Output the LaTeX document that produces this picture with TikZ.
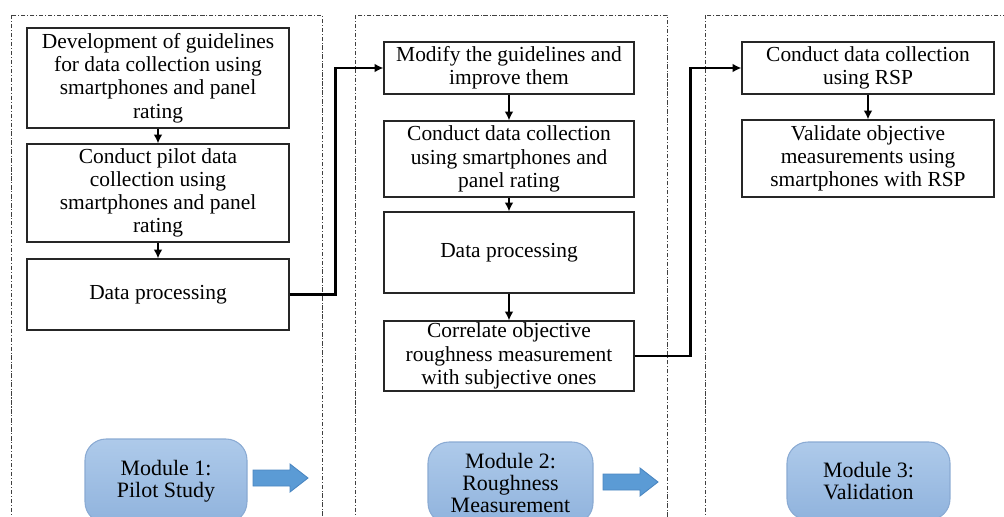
\documentclass[tikz,border=0pt]{standalone}
\usepackage{fontspec}
\setmainfont{Liberation Serif}
\usetikzlibrary{arrows.meta}
\tikzset{>={Latex[width=5pt,length=5pt]}}
\definecolor{modtop}{HTML}{AECAEA}
\definecolor{modbottom}{HTML}{90B3DD}
\definecolor{modline}{HTML}{8AAAD3}
\definecolor{arrowblue}{HTML}{5B9BD5}
\definecolor{arrowline}{HTML}{4A86C1}
\newcommand{\unitpx}{0.02cm}

\begin{document}
\begin{tikzpicture}[x=0.02cm,y=-0.02cm,
  stepbox/.style={draw=black!85, line width=0.7pt, fill=white, align=center,
    inner sep=1pt, font=\fontsize{12.2}{13.2}\selectfont},
  boxsize/.style 2 args={minimum width=#1*\unitpx, minimum height=#2*\unitpx},
  panel/.style={draw=black!75, line width=0.5pt,
    dash pattern=on 2.5pt off 1pt on 0.6pt off 1pt},
  flow/.style={->, line width=1.2pt},
  link/.style={->, line width=1.6pt},
  module/.style={draw=modline, line width=0.6pt, rounded corners=12pt,
    top color=modtop, bottom color=modbottom, align=center,
    font=\fontsize{12.5}{12.6}\selectfont},
  nextmod/.style={draw=arrowline, line width=0.5pt, fill=arrowblue}]

  \useasboundingbox (0,0) rectangle (1004,517);
  \clip (0,0) rectangle (1004,517);

  % module panels
  \draw[panel] (11,15) rectangle (322,540);
  \draw[panel] (355,15) rectangle (667,540);
  \draw[panel] (705,15) rectangle (1030,540);

  % module 1
  \node[stepbox, boxsize={262}{100}] (guide) at (158,78)
    {Development of guidelines\\for data collection using\\smartphones and panel\\rating};
  \node[stepbox, boxsize={262}{98}] (pilot) at (158,193)
    {Conduct pilot data\\collection using\\smartphones and panel\\rating};
  \node[stepbox, boxsize={262}{71}] (proc1) at (158,294.5) {Data processing};

  % module 2
  \node[stepbox, boxsize={250}{52}] (modify) at (509,68)
    {Modify the guidelines and\\improve them};
  \node[stepbox, boxsize={250}{76}] (collect) at (509,159)
    {Conduct data collection\\using smartphones and\\panel rating};
  \node[stepbox, boxsize={250}{81}] (proc2) at (509,252.5) {Data processing};
  \node[stepbox, boxsize={250}{70}] (correl) at (509,356)
    {Correlate objective\\roughness measurement\\with subjective ones};

  % module 3
  \node[stepbox, boxsize={252}{52}] (rsp) at (868,68)
    {Conduct data collection\\using RSP};
  \node[stepbox, boxsize={252}{77}] (valid) at (868,158.5)
    {Validate objective\\measurements using\\smartphones with RSP};

  \draw[flow] (guide) -- (pilot);
  \draw[flow] (pilot) -- (proc1);
  \draw[flow] (modify) -- (collect);
  \draw[flow] (collect) -- (proc2);
  \draw[flow] (proc2) -- (correl);
  \draw[flow] (rsp) -- (valid);

  \draw[link] (proc1.east) -- ++(46,0) |- (modify.west);
  \draw[link] (correl.east) -- ++(56,0) |- (rsp.west);

  % module labels
  \node[module, boxsize={162}{84}] (mod1) at (166,481) {Module 1:\\Pilot Study};
  \node[module, boxsize={165}{82}] (mod2) at (510.5,483)
    {Module 2:\\Roughness\\Measurement};
  \node[module, boxsize={163}{78}] (mod3) at (868.5,481) {Module 3:\\Validation};

  % block arrows between modules
  \coordinate (go1) at (253,478);
  \coordinate (go2) at (603,482);
  \foreach \g in {go1,go2}
    \draw[nextmod] (\g) ++(0,-8) -- ++(37,0) -- ++(0,-6) -- ++(18,14)
      -- ++(-18,14) -- ++(0,-6) -- ++(-37,0) -- cycle;

\end{tikzpicture}
\end{document}
